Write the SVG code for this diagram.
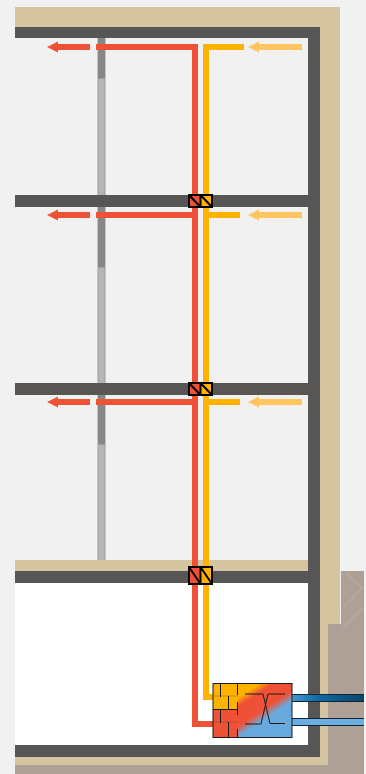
<svg xmlns="http://www.w3.org/2000/svg" width="366" height="774" viewBox="0 0 366 774">
<style>
.tan{fill:#d4c5a0}.dark{fill:#575654}.hot{fill:#ef5136}.warm{fill:#ffb200}.pale{fill:#ffc55f}
.cb{fill:none;stroke:#000;stroke-width:2}.t{fill:none;stroke:#1a1a1a;stroke-width:1}.h{fill:none;stroke:#5a3a10;stroke-width:1;stroke-opacity:.3}
.g{fill:none;stroke:#bdb3ab;stroke-width:1}
.ce{fill:#9c9c9c}.cd{fill:#878787}.cl{fill:#b5b5b5}
</style>
<defs>
<linearGradient id="u" gradientUnits="userSpaceOnUse" x1="244.500" y1="684.700" x2="277.500" y2="734.500">
<stop offset="0.12" stop-color="#ffb200"/><stop offset="0.25" stop-color="#ef5136"/><stop offset="0.52" stop-color="#ef5136"/><stop offset="0.67" stop-color="#68aade"/>
</linearGradient>
<linearGradient id="d"><stop offset="0" stop-color="#4a97d0"/><stop offset="0.35" stop-color="#0d6ca6"/><stop offset="1" stop-color="#0b4468"/></linearGradient>
</defs>
<rect width="366" height="774" fill="#f1f1f1"/>
<g id="ground">
<path d="M341 571H364V774H15V765H328V624H341Z" fill="#aea096"/>
<path class="g" d="M346 573L362 588L342 609M362 608L342 628"/>
</g>
<g id="building">
<rect x="15" y="583" width="293" height="162" fill="#fff"/>
<path class="tan" d="M15 7H340V624H328V765H15V757H320V27H15Z"/>
<rect class="tan" x="15" y="560" width="293" height="11"/>
<path class="dark" d="M15 27H320V757H15V745H308V583H15V571H308V395H15V383H308V207H15V195H308V38H15Z"/>
</g>
<g id="columns">
<rect class="ce" x="97.500" y="38" width="8" height="157"/><rect class="cd" x="98" y="38" width="7" height="40"/><rect class="cl" x="98.500" y="79" width="6" height="116"/>
<rect class="ce" x="97.500" y="207" width="8" height="176"/><rect class="cd" x="98" y="207" width="7" height="60"/><rect class="cl" x="98.500" y="268" width="6" height="115"/>
<rect class="ce" x="97.500" y="395" width="8" height="165"/><rect class="cd" x="98" y="395" width="7" height="49"/><rect class="cl" x="98.500" y="445" width="6" height="115"/>
</g>
<g id="connectors">
<path class="hot" d="M192 44H96V50H192V212H96V218H192V399H96V405H192V727H213V721H198V44Z"/>
<path class="warm" d="M203 44H244V50H209V212H240V218H209V399H240V405H209V694H213V700H203Z"/>
<path class="hot" d="M47 47L58 41.500V44H90V50H58V52.500Z"/>
<path class="hot" d="M47 215L58 209.500V212H90V218H58V220.500Z"/>
<path class="hot" d="M47 402L58 396.500V399H90V405H58V407.500Z"/>
<path class="pale" d="M248 47L259 41.500V44H302V50H259V52.500Z"/>
<path class="pale" d="M248 215L259 209.500V212H302V218H259V220.500Z"/>
<path class="pale" d="M248 402L259 396.500V399H302V405H259V407.500Z"/>
</g>
<g id="damper-1">
<rect x="189" y="195" width="12" height="12" fill="#ef5136"/><rect x="201" y="195" width="11" height="12" fill="#ffb200"/>
<path class="cb" d="M189 195H212V207H189ZM200.500 195V207M189 195L200.500 207M200.500 195L212 207"/>
</g>
<g id="damper-2">
<rect x="189" y="383" width="12" height="12" fill="#ef5136"/><rect x="201" y="383" width="11" height="12" fill="#ffb200"/>
<path class="cb" d="M189 383H212V395H189ZM200.500 383V395M189 383L200.500 395M200.500 383L212 395"/>
</g>
<g id="damper-3">
<rect x="189" y="567" width="12" height="17" fill="#ef5136"/><rect x="201" y="567" width="11" height="17" fill="#ffb200"/>
<path class="cb" d="M189 567H212V584H189ZM200.500 567V584M189 567L200.500 584M200.500 567L212 584"/>
</g>
<g id="ducts">
<rect x="292" y="694.500" width="72" height="7" fill="url(#d)"/>
<rect x="292" y="718.500" width="72" height="7" fill="#6aaee2"/>
<path fill="none" stroke="#12242f" stroke-width="1" d="M292 694.500H364M292 701.500H364M292 718.500H364M292 725.500H364"/>
</g>
<g id="unit">
<rect x="213" y="683.500" width="79" height="54" fill="url(#u)"/>
<rect x="213" y="683.500" width="25" height="26" fill="#ffb200"/>
<rect x="213" y="709.500" width="25" height="28" fill="#ef5136"/>
<path class="h" d="M213 696H238M213 722H238"/>
<path class="t" d="M213 709.500H238M220.500 684V697M228.500 696V709M237.500 684V695M237.500 702V709M220.500 710V723M228.500 722V737M237.500 710V715M237.500 729V737"/>
<path class="t" d="M245 694H263L270 723.500H285M245 724H261L268 694H285"/>
<rect x="213" y="683.500" width="79" height="54" fill="none" stroke="#1c1c1c" stroke-width="1"/>
</g>
</svg>
